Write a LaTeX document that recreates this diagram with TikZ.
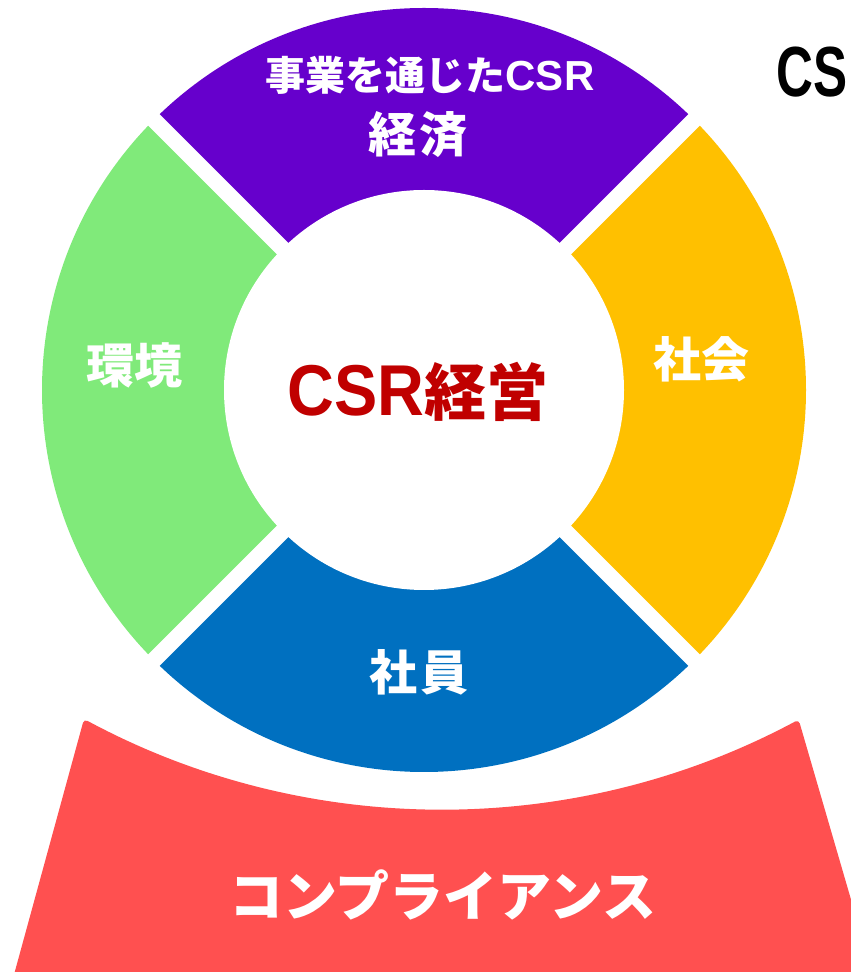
\documentclass[tikz,border=0pt]{standalone}
\usepackage{fontspec}
\usetikzlibrary{calc}
\setmainfont{Liberation Sans}
\newfontfamily\jp{Noto Sans CJK JP}
\newfontfamily\lsans{Liberation Sans}
\definecolor{cpurple}{HTML}{6600CC}
\definecolor{cgreen}{HTML}{80EA7A}
\definecolor{cyellow}{HTML}{FFC000}
\definecolor{cblue}{HTML}{0070C0}
\definecolor{cred}{HTML}{FF5050}
\definecolor{ctext}{HTML}{C00000}
\tikzset{
  lbl/.style={text=white, inner sep=0pt, font=\jp\bfseries\fontsize{48}{50}\selectfont},
  gap/.style={white, line width=16pt},
}
\begin{document}
\begin{tikzpicture}[x=1pt,y=1pt]
\clip (0,0) rectangle (851,972);
\coordinate (C) at (424,582);
% ring segments
\fill[cpurple] (C) -- ++(45:382) arc (45:135:382) -- cycle;
\fill[cgreen]  (C) -- ++(135:382) arc (135:225:382) -- cycle;
\fill[cblue]   (C) -- ++(225:382) arc (225:315:382) -- cycle;
\fill[cyellow] (C) -- ++(-45:382) arc (-45:45:382) -- cycle;
% gaps and centre
\draw[gap] ($(C)+(45:392)$) -- ($(C)+(225:392)$);
\draw[gap] ($(C)+(135:392)$) -- ($(C)+(315:392)$);
\fill[white] (C) circle (200);
% compliance base
\fill[cred, rounded corners=4pt] (12,-10) -- (84,253) arc (241.7:298.2:755) -- (875,-10) -- cycle;
% labels
\node[lbl, font=\jp\bfseries\fontsize{40}{42}\selectfont] (jigyo) at (430,897)
  {事業を通じた{\lsans\bfseries\fontsize{42}{44}\selectfont CSR}};
\node[lbl] (keizai) at (418,837) {経\kern4pt済};
\node[lbl] (kankyo) at (134,607) {環境};
\node[lbl] (shakai) at (701,613) {社会};
\node[lbl] (shain) at (419,300) {社\kern4pt員};
\node[inner sep=0pt, text=ctext] (main) at (418,580)
  {{\lsans\bfseries\fontsize{72}{74}\selectfont\scalebox{0.9}[1]{CSR}}{\jp\bfseries\fontsize{62}{64}\selectfont 経営}};
\node[lbl, font=\jp\bfseries\fontsize{54}{56}\selectfont] (comp) at (443,77) {コンプライアンス};
\node[anchor=west, inner sep=0pt, font=\lsans\bfseries\fontsize{71}{72}\selectfont] (cs) at (776,900)
  {\scalebox{0.72}[1]{CS}};
\end{tikzpicture}
\end{document}
